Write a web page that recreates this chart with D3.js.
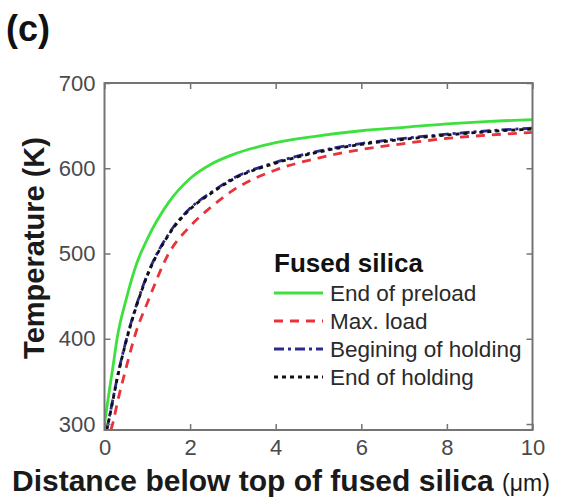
<!DOCTYPE html>
<html><head><meta charset="utf-8">
<script src="https://cdn.jsdelivr.net/npm/d3@7"></script>
<style>body{margin:0;background:#fff;}svg{display:block;font-family:"Liberation Sans",Arial,sans-serif;}</style>
</head><body>
<svg id="c" width="571" height="503"></svg>
<script>
const xTicks = [0, 2, 4, 6, 8, 10];
const yTicks = [300, 400, 500, 600, 700];
const seriesNames = ["End of preload", "Max. load", "Begining of holding", "End of holding"];
const greenX = [0, 0.1, 0.2, 0.3, 0.5, 0.75, 1, 1.5, 2, 2.5, 3, 4, 5, 6, 7, 8, 9, 10];
const greenY = [300, 335, 368, 402, 445, 488, 517, 560, 588, 605, 616, 630, 638, 644, 648, 652, 655, 657];
const redX = [0.15, 0.2, 0.3, 0.5, 0.75, 1, 1.5, 2, 2.5, 3, 4, 5, 6, 7, 8, 9, 10];
const redY = [293, 302, 325, 365, 410, 442, 500, 532, 555, 574, 598, 612, 622, 629, 635, 639, 642];
const blueX = [0.05, 0.1, 0.2, 0.3, 0.5, 0.75, 1, 1.5, 2, 2.5, 3, 4, 5, 6, 7, 8, 9, 10];
const blueY = [293, 305, 330, 355, 397, 440, 475, 523, 553, 572, 588, 607, 620, 629, 635, 640, 644, 647];
const blackX = [0.05, 0.1, 0.2, 0.3, 0.5, 0.75, 1, 1.5, 2, 2.5, 3, 4, 5, 6, 7, 8, 9, 10];
const blackY = [293, 304, 329, 354, 396, 439, 474, 522, 552, 571, 587, 606, 619, 628, 634, 639, 643, 646];

const svg = d3.select("#c");
const L = 104.5, R = 532.5, T = 83, B = 430;
const x = d3.scaleLinear().domain([0, 10]).range([L, R]);
const y = d3.scaleLinear().domain([293, 700]).range([B, T]);

svg.append("defs").append("clipPath").attr("id", "pc")
  .append("rect").attr("x", L).attr("y", T).attr("width", R - L).attr("height", B - T);

const styles = [
  {c: "#3ee03e", d: null, xs: greenX, ys: greenY},
  {c: "#e8323c", d: "9,7", xs: redX, ys: redY},
  {c: "#2a2a90", d: "10,4,3,4", xs: blueX, ys: blueY},
  {c: "#111111", d: "4,4", xs: blackX, ys: blackY}
];
const line = d3.line().x(d => x(d[0])).y(d => y(d[1])).curve(d3.curveMonotoneX);
const g = svg.append("g").attr("clip-path", "url(#pc)");
styles.forEach(s => {
  g.append("path").datum(s.xs.map((v, i) => [v, s.ys[i]]))
    .attr("d", line).attr("fill", "none").attr("stroke", s.c)
    .attr("stroke-width", 2.8).attr("stroke-dasharray", s.d);
});

const axCol = "#747474";
svg.append("rect").attr("x", L).attr("y", T).attr("width", R - L).attr("height", B - T)
  .attr("fill", "none").attr("stroke", axCol).attr("stroke-width", 2);

const ax = [
  d3.axisBottom(x).tickValues(xTicks).tickSize(-6).tickPadding(9),
  d3.axisTop(x).tickValues(xTicks).tickSize(-6).tickFormat(""),
  d3.axisLeft(y).tickValues(yTicks).tickSize(-6).tickPadding(9),
  d3.axisRight(y).tickValues(yTicks).tickSize(-6).tickFormat("")
];
const pos = [[0, B], [0, T], [L, 0], [R, 0]];
ax.forEach((a, i) => {
  const ag = svg.append("g").attr("transform", `translate(${pos[i][0]},${pos[i][1]})`).call(a);
  ag.select(".domain").remove();
  ag.selectAll("line").attr("stroke", axCol).attr("stroke-width", 1.5);
  ag.selectAll("text").attr("fill", "#4a4a4a").attr("font-size", 22)
    .attr("font-family", "Liberation Sans, Arial, sans-serif");
});

svg.append("text").attr("x", 6).attr("y", 41).attr("font-size", 36).attr("font-weight", "bold")
  .attr("fill", "#111").text("(c)");
svg.append("text").attr("transform", "translate(44,248) rotate(-90)").attr("text-anchor", "middle")
  .attr("font-size", 29).attr("font-weight", "bold").attr("fill", "#1a1a1a").text("Temperature (K)");
const xl = svg.append("text").attr("x", 12).attr("y", 491).attr("text-anchor", "start")
  .attr("font-size", 30).attr("font-weight", "bold").attr("fill", "#1a1a1a");
xl.append("tspan").text("Distance below top of fused silica ");
xl.append("tspan").attr("font-size", 23).attr("font-weight", "normal").text("(μm)");

svg.append("text").attr("x", 274).attr("y", 272).attr("font-size", 26).attr("font-weight", "bold")
  .attr("fill", "#111").text("Fused silica");
const rows = [293, 321, 349, 377];
styles.forEach((s, i) => {
  svg.append("line").attr("x1", 274).attr("x2", 323).attr("y1", rows[i]).attr("y2", rows[i])
    .attr("stroke", s.c).attr("stroke-width", 2.8).attr("stroke-dasharray", s.d);
  svg.append("text").attr("x", 330).attr("y", rows[i] + 8).attr("font-size", 22.5)
    .attr("fill", "#2a2a2a").text(seriesNames[i]);
});
</script>
</body></html>
